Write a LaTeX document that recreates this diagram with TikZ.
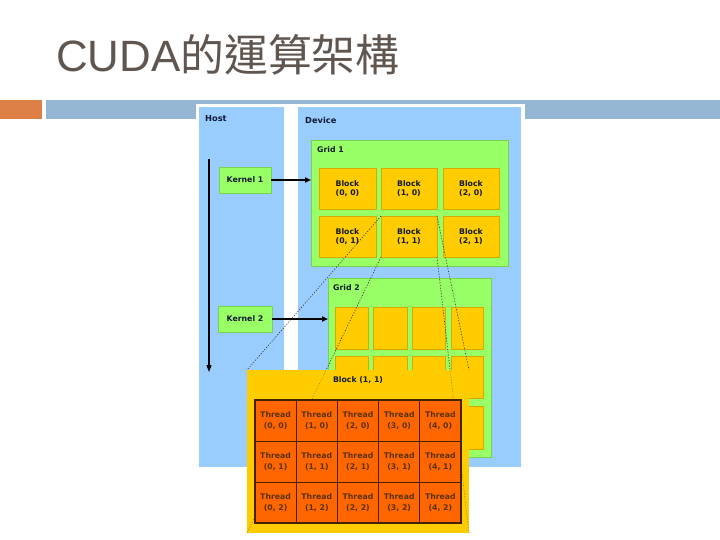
\documentclass[tikz,border=0pt]{standalone}
\usepackage{fontspec}
\setmainfont{Liberation Sans}
\newfontfamily\cjk{Noto Sans CJK TC}
\newfontfamily\dv{DejaVu Sans}[BoldFont={DejaVu Sans Bold}]
\usetikzlibrary{arrows.meta}
\definecolor{titlecol}{RGB}{96,86,80}
\definecolor{barorange}{RGB}{221,128,71}
\definecolor{barblue}{RGB}{148,182,210}
\definecolor{hostblue}{RGB}{153,204,255}
\definecolor{gridgreen}{RGB}{153,255,102}
\definecolor{greenedge}{RGB}{120,210,80}
\definecolor{blockgold}{RGB}{255,204,0}
\definecolor{goldedge}{RGB}{215,170,0}
\definecolor{thrcol}{RGB}{255,102,0}
\definecolor{thredge}{RGB}{70,35,0}
\definecolor{txtdark}{RGB}{20,25,50}
\definecolor{txtbrown}{RGB}{90,50,0}
\tikzset{
  nw/.style={anchor=north west, inner sep=0pt, outer sep=0pt},
  panelbox/.style={nw, fill=hostblue, draw=none},
  gridbox/.style={nw, fill=gridgreen, draw=greenedge, line width=0.7bp},
  blockbox/.style={nw, fill=blockgold, draw=goldedge, line width=0.6bp, align=center, text=txtdark,
     font=\dv\bfseries\fontsize{7.8}{9.5}\selectfont},
  kernelbox/.style={nw, fill=gridgreen, draw=greenedge, line width=0.6bp, text=txtdark,
     font=\dv\bfseries\fontsize{7.8}{9}\selectfont},
  threadbox/.style={nw, fill=thrcol, draw=thredge, line width=0.8bp, align=center, text=txtbrown,
     font=\dv\bfseries\fontsize{7.8}{10.5}\selectfont},
  lbl/.style={inner sep=0pt, text=txtdark, font=\dv\bfseries\fontsize{8.3}{9}\selectfont},
  slbl/.style={inner sep=0pt, text=txtdark, font=\dv\bfseries\fontsize{7.8}{9}\selectfont},
  callarrow/.style={line width=1.5bp, -{Triangle[length=6bp,width=5bp]}},
  timearrow/.style={line width=1.1bp, -{Triangle[length=7bp,width=5bp]}},
  zoomline/.style={line width=0.6bp, dash pattern=on 1.2bp off 1.6bp, draw=black!80},
  faintline/.style={line width=0.6bp, dash pattern=on 1.2bp off 1.6bp, draw=goldedge!80!black},
}
\begin{document}
\begin{tikzpicture}[x=1bp,y=-1bp]
\useasboundingbox (0,0) rectangle (720,540);
\fill[white] (0,0) rectangle (720,540);
% title
\node[anchor=base west, inner sep=0pt, text=titlecol, font=\fontsize{44}{50}\selectfont] (title) at (56,72) {CUDA{\cjk 的運算架構}};
% bars
\fill[barorange] (0,100) rectangle (42,119);
\fill[barblue] (46,100) rectangle (720,119);
% white frame of the figure
\node[nw, fill=white, minimum width=329bp, minimum height=365bp] (frame) at (196,104) {};
% host & device
\node[panelbox, minimum width=85bp, minimum height=360bp] (host) at (199,107) {};
\node[panelbox, minimum width=223bp, minimum height=360bp] (dev) at (298,107) {};
\node[lbl, anchor=west] (hostl) at (205,119) {Host};
\node[lbl, anchor=west] (devl) at (305,120) {Device};
% grid 1
\node[gridbox, minimum width=197bp, minimum height=126bp] (g1) at (311,140) {};
\node[slbl, anchor=west] (g1l) at (317,150) {Grid 1};
\node[blockbox, minimum width=57bp, minimum height=41bp] (b00) at (319,168) {Block\\(0, 0)};
\node[blockbox, minimum width=56bp, minimum height=41bp] (b10) at (381,168) {Block\\(1, 0)};
\node[blockbox, minimum width=56bp, minimum height=41bp] (b20) at (443,168) {Block\\(2, 0)};
\node[blockbox, minimum width=57bp, minimum height=41bp] (b01) at (319,216) {Block\\(0, 1)};
\node[blockbox, minimum width=56bp, minimum height=41bp] (b11) at (381,216) {Block\\(1, 1)};
\node[blockbox, minimum width=56bp, minimum height=41bp] (b21) at (443,216) {Block\\(2, 1)};
% grid 2
\node[gridbox, minimum width=163bp, minimum height=179bp] (g2) at (328,278) {};
\node[slbl, anchor=west] (g2l) at (333,288) {Grid 2};
\foreach \cx/\cw [count=\i] in {335/33,373/34,412/33,451/32}{
  \foreach \ry/\rh [count=\j] in {307/42,356/42,406/43}{
    \node[nw, fill=blockgold, draw=goldedge, line width=0.6bp, minimum width=\cw bp, minimum height=\rh bp] (c\i\j) at (\cx,\ry) {};
  }
}
% kernels
\node[kernelbox, minimum width=52bp, minimum height=26bp] (k1) at (219,167) {Kernel 1};
\node[kernelbox, minimum width=54bp, minimum height=26bp] (k2) at (218,306) {Kernel 2};
\draw[callarrow] (k1.east) -- (k1.east -| g1.west);
\draw[callarrow] (k2.east) -- (k2.east -| g2.west);
% host timeline
\coordinate (tstart) at (209,159);
\coordinate (tend) at (209,372);
\draw[timearrow] (tstart) -- (tend);
% zoom lines (under the block panel)
\node[nw, minimum width=222bp, minimum height=163bp] (bp) at (247,370) {};
\draw[zoomline] (b11.north west) -- (bp.north west);
\draw[zoomline] (b11.south west) -- (bp.south west);
\draw[zoomline] (b11.north east) -- (bp.north east);
\draw[zoomline] (b11.south east) -- (bp.south east);
% block (1,1) panel
\fill[blockgold] (bp.north west) rectangle (bp.south east);
\begin{scope}
  \clip (bp.north west) rectangle (bp.south east);
  \draw[faintline] (b11.north west) -- (bp.north west);
  \draw[faintline] (b11.south west) -- (bp.south west);
  \draw[faintline] (b11.north east) -- (bp.north east);
  \draw[faintline] (b11.south east) -- (bp.south east);
\end{scope}
\node[inner sep=0pt, text=txtdark, font=\dv\bfseries\fontsize{7.8}{9}\selectfont] (bpl) at (358,380) {Block (1, 1)};
% threads
\foreach \i in {0,...,4}{
  \foreach \j in {0,1,2}{
    \node[threadbox, minimum width=41.2bp, minimum height=41bp] (t\i\j) at ({255+41.2*\i},{400+41*\j}) {Thread\\(\i, \j)};
  }
}
\draw[thredge, line width=1.4bp] (t00.north west) rectangle (t42.south east);
\end{tikzpicture}
\end{document}
